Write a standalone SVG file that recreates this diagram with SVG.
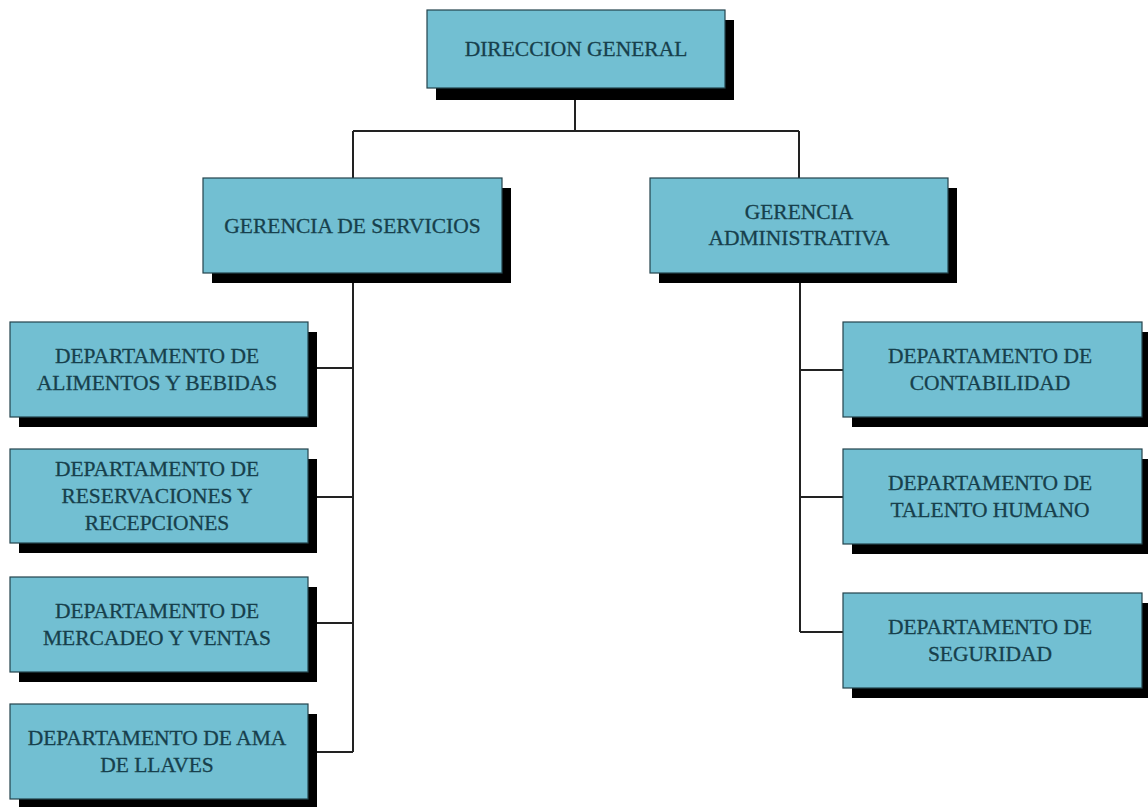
<svg xmlns="http://www.w3.org/2000/svg" width="1148" height="807" viewBox="0 0 1148 807">
<style>
.sh{fill:#000}
.bx{fill:#72bfd2;stroke:#24434c;stroke-width:1.2}
.t{font-family:"Liberation Serif","Times New Roman",serif;font-size:21.5px;fill:#173f4c;stroke:#173f4c;stroke-width:0.3;text-anchor:middle}
.ln{stroke:#222;stroke-width:2;fill:none}
</style>
<rect width="1148" height="807" fill="#fff"/>
<g id="connectors">
<path class="ln" d="M575,100 V131 M353,131 H799 M353,131 V178 M799,131 V178"/>
<path class="ln" d="M353,283 V752 M308,368 H353 M308,497 H353 M308,623 H353 M308,752 H353"/>
<path class="ln" d="M800,283 V632 M800,370 H843 M800,497 H843 M800,632 H843"/>
</g>
<g id="direccion-general">
<rect class="sh" x="436" y="20" width="298" height="80"/>
<rect class="bx" x="427" y="10" width="298" height="78"/>
<text class="t" x="576" y="56">DIRECCION GENERAL</text>
</g>
<g id="gerencia-servicios">
<rect class="sh" x="212" y="188" width="299" height="95"/>
<rect class="bx" x="203" y="178" width="299" height="95"/>
<text class="t" x="352.5" y="233">GERENCIA DE SERVICIOS</text>
</g>
<g id="gerencia-administrativa">
<rect class="sh" x="659" y="188" width="298" height="95"/>
<rect class="bx" x="650" y="178" width="298" height="95"/>
<text class="t" x="799" y="219">GERENCIA</text>
<text class="t" x="799" y="245">ADMINISTRATIVA</text>
</g>
<g id="dep-alimentos">
<rect class="sh" x="19" y="332" width="298" height="95"/>
<rect class="bx" x="10" y="322" width="298" height="95"/>
<text class="t" x="157" y="363">DEPARTAMENTO DE</text>
<text class="t" x="157" y="390">ALIMENTOS Y BEBIDAS</text>
</g>
<g id="dep-reservaciones">
<rect class="sh" x="19" y="459" width="298" height="94"/>
<rect class="bx" x="10" y="449" width="298" height="94"/>
<text class="t" x="157" y="476">DEPARTAMENTO DE</text>
<text class="t" x="157" y="503">RESERVACIONES Y</text>
<text class="t" x="157" y="530">RECEPCIONES</text>
</g>
<g id="dep-mercadeo">
<rect class="sh" x="19" y="587" width="298" height="95"/>
<rect class="bx" x="10" y="577" width="298" height="95"/>
<text class="t" x="157" y="618">DEPARTAMENTO DE</text>
<text class="t" x="157" y="645">MERCADEO Y VENTAS</text>
</g>
<g id="dep-ama-llaves">
<rect class="sh" x="19" y="714" width="298" height="95"/>
<rect class="bx" x="10" y="704" width="298" height="95"/>
<text class="t" x="157" y="745">DEPARTAMENTO DE AMA</text>
<text class="t" x="157" y="772">DE LLAVES</text>
</g>
<g id="dep-contabilidad">
<rect class="sh" x="852" y="332" width="299" height="95"/>
<rect class="bx" x="843" y="322" width="299" height="95"/>
<text class="t" x="990" y="363">DEPARTAMENTO DE</text>
<text class="t" x="990" y="390">CONTABILIDAD</text>
</g>
<g id="dep-talento">
<rect class="sh" x="852" y="459" width="299" height="95"/>
<rect class="bx" x="843" y="449" width="299" height="95"/>
<text class="t" x="990" y="490">DEPARTAMENTO DE</text>
<text class="t" x="990" y="517">TALENTO HUMANO</text>
</g>
<g id="dep-seguridad">
<rect class="sh" x="852" y="603" width="299" height="95"/>
<rect class="bx" x="843" y="593" width="299" height="95"/>
<text class="t" x="990" y="634">DEPARTAMENTO DE</text>
<text class="t" x="990" y="661">SEGURIDAD</text>
</g>
</svg>
